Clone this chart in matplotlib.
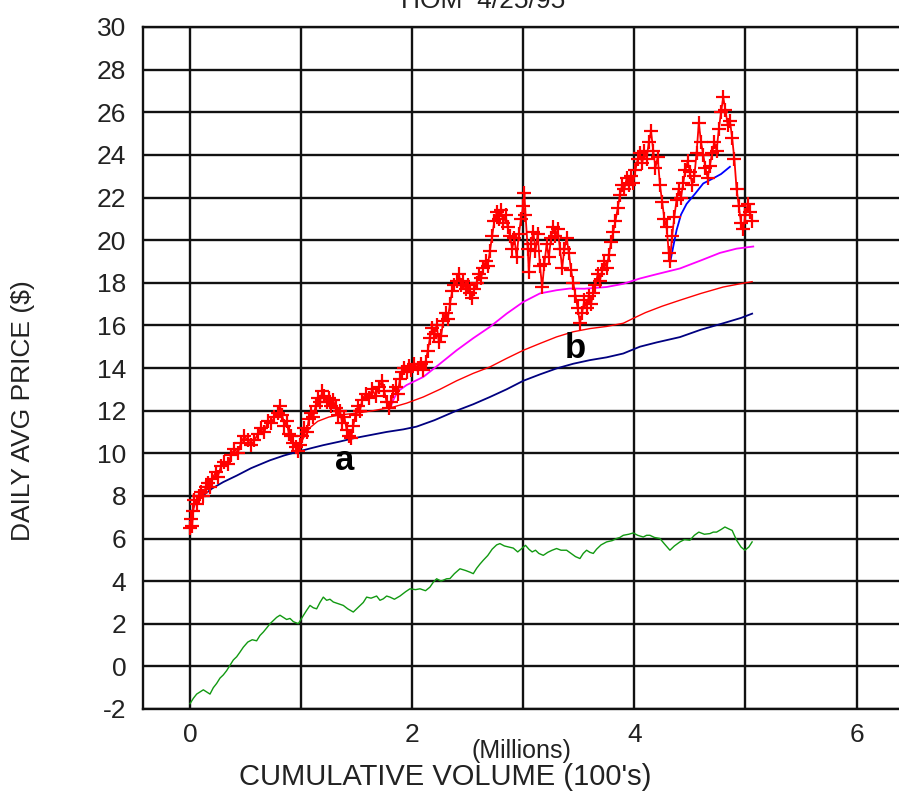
import numpy as np
import matplotlib.pyplot as plt

plt.rcParams['font.family'] = ['Liberation Sans', 'DejaVu Sans']
plt.rcParams['axes.unicode_minus'] = False

# daily average price (red crosses)
price_x = [0.00, 0.01, 0.02, 0.03, 0.04, 0.06, 0.08, 0.10, 0.12, 0.14, 0.16, 0.18, 0.20, 0.23, 0.25,
           0.28, 0.31, 0.34, 0.37, 0.40, 0.43, 0.46, 0.49, 0.52, 0.55, 0.58, 0.61, 0.64, 0.67, 0.70,
           0.73, 0.76, 0.79, 0.81, 0.83, 0.85, 0.87, 0.89, 0.91, 0.93, 0.95, 0.97, 0.99,
           1.01, 1.03, 1.05, 1.07, 1.09, 1.11, 1.13, 1.15, 1.17, 1.19, 1.21, 1.23, 1.25, 1.27, 1.29,
           1.31, 1.33, 1.35, 1.37, 1.39, 1.41, 1.43, 1.45, 1.47, 1.49, 1.51, 1.53, 1.55, 1.58, 1.61,
           1.64, 1.67, 1.70, 1.73, 1.75, 1.77, 1.79, 1.81, 1.83, 1.85, 1.87, 1.89, 1.91, 1.93, 1.95,
           1.97, 1.99, 2.02, 2.05, 2.08, 2.10,
           2.12, 2.14, 2.16, 2.18, 2.20, 2.22, 2.24, 2.26, 2.28, 2.30, 2.32, 2.34, 2.36, 2.38, 2.40,
           2.42, 2.44, 2.46, 2.48, 2.50, 2.52, 2.54, 2.56, 2.58, 2.60, 2.62, 2.64, 2.66, 2.68, 2.70,
           2.72, 2.74, 2.76, 2.78, 2.80, 2.82, 2.84, 2.86, 2.88, 2.90, 2.92, 2.94, 2.96, 2.98, 3.00,
           3.01, 3.02,
           3.04, 3.05, 3.07, 3.09, 3.11, 3.13, 3.15, 3.17, 3.19, 3.21, 3.23, 3.25, 3.27, 3.29, 3.31,
           3.33, 3.35, 3.37, 3.39, 3.41, 3.43, 3.45, 3.47, 3.49, 3.51, 3.53, 3.55, 3.57, 3.59, 3.61,
           3.63, 3.65, 3.67, 3.69, 3.71, 3.73, 3.75, 3.77, 3.79, 3.81, 3.83, 3.85, 3.87, 3.89, 3.91,
           3.93, 3.95, 3.97, 3.99,
           4.01, 4.03, 4.05, 4.07, 4.09, 4.11, 4.13, 4.15, 4.17, 4.19, 4.21, 4.23, 4.25, 4.27, 4.29,
           4.31, 4.32, 4.34, 4.36, 4.38, 4.40, 4.42, 4.44, 4.46, 4.48, 4.50, 4.52, 4.54, 4.56, 4.58,
           4.60, 4.62, 4.64, 4.66, 4.68, 4.70, 4.72, 4.74, 4.76, 4.78, 4.80, 4.82, 4.84, 4.86, 4.88,
           4.90, 4.92, 4.94, 4.96, 4.98, 5.00, 5.02, 5.04, 5.06]
price_y = [6.5, 6.9, 6.6, 7.3, 7.8, 7.6, 8.0, 8.2, 8.0, 8.4, 8.6, 8.4, 8.8, 9.1, 8.9,
           9.4, 9.6, 9.5, 9.9, 10.2, 10.0, 10.5, 10.8, 10.6, 10.4, 10.6, 10.9, 11.2, 11.0, 11.5,
           11.4, 11.7, 11.9, 12.2, 11.8, 11.3, 11.5, 10.9, 10.8, 10.5, 10.3, 10.1, 10.4,
           10.8, 11.2, 11.0, 11.6, 11.9, 11.7, 12.2, 12.6, 12.4, 12.9, 12.7, 12.4, 12.6, 12.2, 12.5,
           12.1, 11.8, 12.0, 11.4, 11.7, 11.1, 10.8, 10.7, 11.3, 11.8, 12.2, 12.0, 12.5, 12.8, 12.6,
           13.0, 12.7, 13.1, 13.4, 12.9, 12.4, 12.1, 12.4, 12.9, 13.1, 12.8, 13.5, 13.8, 14.0, 13.8,
           14.1, 13.9, 14.2, 14.0, 14.2, 13.9,
           14.3, 14.8, 15.4, 15.9, 15.6, 16.0, 15.2, 15.5, 16.2, 16.6, 16.3, 17.0, 17.6, 17.9, 18.1,
           18.4, 17.9, 18.1, 17.7, 17.9, 17.5, 17.3, 17.7, 18.0, 18.4, 18.2, 18.7, 19.0, 18.8, 19.5,
           20.2, 20.9, 21.3, 21.0, 21.4, 20.8, 21.2, 20.6, 20.2, 19.6, 20.1, 19.2, 20.3, 21.0, 21.6,
           22.2, 21.2,
           19.6, 18.5, 19.8, 20.4, 19.5, 20.3, 18.8, 17.8, 18.9, 19.8, 19.2, 20.1, 20.6, 20.2, 20.5,
           19.6, 18.7, 19.6, 20.1, 19.4, 18.6, 18.0, 17.4, 16.8, 16.1, 16.6, 17.2, 16.8, 17.4, 17.0,
           17.5, 17.9, 18.4, 18.1, 18.6, 19.0, 18.7, 19.3, 19.9, 20.4, 20.9, 21.5, 22.1, 22.6, 22.4,
           22.9, 22.6, 23.0, 22.7,
           23.3, 23.8, 24.1, 23.6, 24.2, 23.8, 24.6, 25.1, 24.2, 23.4, 23.9, 22.6, 21.8, 21.0, 20.6,
           19.4, 19.0, 20.2, 21.1, 21.9, 22.4, 22.0, 22.7, 23.3, 23.7, 23.2, 22.6, 23.0, 24.1, 25.5,
           24.6, 24.0, 23.4, 22.9, 23.5, 24.1, 24.6, 24.2, 25.2, 26.0, 26.7, 26.1, 25.4, 25.6, 24.8,
           23.8, 22.4, 21.6, 20.8, 20.5, 21.2, 21.7, 21.3, 20.9]

# long average from the start (navy)
navy_x = [0.00, 0.02, 0.05, 0.10, 0.20, 0.30, 0.42, 0.55, 0.72, 0.85, 0.96, 1.10, 1.20, 1.35,
          1.47, 1.62, 1.77, 1.92, 2.04, 2.20, 2.40, 2.55, 2.70, 2.85, 3.00, 3.15, 3.30, 3.45,
          3.60, 3.75, 3.90, 4.05, 4.20, 4.41, 4.60, 4.80, 4.96, 5.06]
navy_y = [6.8, 7.3, 7.7, 7.95, 8.35, 8.65, 8.95, 9.3, 9.67, 9.9, 10.06, 10.25, 10.38, 10.55,
          10.7, 10.85, 11.0, 11.12, 11.25, 11.55, 12.0, 12.3, 12.64, 13.0, 13.4, 13.7, 13.98, 14.2,
          14.37, 14.5, 14.68, 15.0, 15.2, 15.45, 15.8, 16.1, 16.35, 16.55]

# average from low "a" (red)
avg_a_x = [0.97, 1.02, 1.08, 1.15, 1.25, 1.35, 1.50, 1.65, 1.83, 1.95, 2.10, 2.25, 2.40, 2.55,
           2.70, 2.85, 3.00, 3.15, 3.30, 3.45, 3.60, 3.75, 3.90, 3.99, 4.10, 4.25, 4.41, 4.60,
           4.80, 4.95, 5.06]
avg_a_y = [10.15, 10.7, 11.2, 11.5, 11.7, 11.8, 11.88, 12.0, 12.17, 12.35, 12.64, 13.0, 13.4, 13.75,
           14.05, 14.45, 14.83, 15.15, 15.46, 15.7, 15.85, 15.95, 16.1, 16.33, 16.6, 16.9, 17.18, 17.5,
           17.8, 17.95, 18.05]

# average from next low (magenta)
magenta_x = [1.80, 1.83, 1.87, 1.95, 2.10, 2.25, 2.40, 2.55, 2.70, 2.85, 3.00, 3.15, 3.30, 3.42,
             3.55, 3.75, 3.90, 4.05, 4.20, 4.41, 4.60, 4.77, 4.92, 5.07]
magenta_y = [12.1, 12.5, 12.9, 13.2, 13.58, 14.2, 14.83, 15.4, 15.93, 16.55, 17.1, 17.5, 17.65, 17.73,
             17.72, 17.8, 17.95, 18.2, 18.4, 18.67, 19.05, 19.4, 19.6, 19.7]

# average from last low (blue)
blue_x = [4.32, 4.35, 4.38, 4.42, 4.47, 4.55, 4.62, 4.71, 4.78, 4.86]
blue_y = [18.9, 19.7, 20.47, 21.2, 21.7, 22.2, 22.66, 22.9, 23.1, 23.44]

# lower curve (green)
green_x = [0.00, 0.03, 0.06, 0.09, 0.12, 0.15, 0.18, 0.21, 0.24, 0.27, 0.30, 0.33, 0.36, 0.39,
           0.42, 0.45, 0.48, 0.52, 0.56, 0.60, 0.63, 0.66, 0.69, 0.72, 0.75, 0.78, 0.81, 0.84,
           0.87, 0.90, 0.93, 0.975, 1.01, 1.05, 1.08, 1.11, 1.14, 1.17, 1.20, 1.23, 1.26, 1.29,
           1.33, 1.38, 1.42, 1.47, 1.51, 1.56, 1.59, 1.63, 1.68, 1.71, 1.74, 1.77, 1.80, 1.84,
           1.89, 1.94, 1.98, 2.03, 2.07, 2.12, 2.16, 2.19, 2.22, 2.26, 2.31, 2.34, 2.38, 2.43,
           2.48, 2.52, 2.55, 2.58, 2.61, 2.64, 2.68, 2.72, 2.76, 2.79, 2.83, 2.87, 2.91, 2.95,
           2.99, 3.02, 3.05, 3.08, 3.11, 3.14, 3.18, 3.22, 3.26, 3.30, 3.34, 3.39, 3.43, 3.47,
           3.51, 3.54, 3.57, 3.60, 3.63, 3.66, 3.70, 3.75, 3.80, 3.84, 3.87, 3.90, 3.95, 3.99,
           4.03, 4.08, 4.11, 4.14, 4.18, 4.23, 4.27, 4.32, 4.36, 4.41, 4.45, 4.50, 4.54, 4.58,
           4.63, 4.68, 4.71, 4.74, 4.78, 4.815, 4.85, 4.88, 4.92, 4.96, 4.995, 5.03, 5.06]
green_y = [-1.75, -1.5, -1.3, -1.2, -1.1, -1.2, -1.3, -1.0, -0.8, -0.55, -0.4, -0.2, 0.05, 0.3,
           0.45, 0.67, 0.9, 1.14, 1.25, 1.2, 1.45, 1.61, 1.8, 2.0, 2.15, 2.3, 2.4, 2.3,
           2.2, 2.25, 2.1, 2.0, 2.3, 2.63, 2.86, 2.75, 2.7, 3.0, 3.25, 3.1, 3.15, 3.02,
           2.95, 2.86, 2.7, 2.55, 2.75, 3.0, 3.25, 3.2, 3.3, 3.1, 3.17, 3.3, 3.25, 3.15,
           3.3, 3.5, 3.64, 3.6, 3.64, 3.55, 3.72, 3.95, 4.11, 4.0, 4.11, 4.12, 4.35, 4.58,
           4.5, 4.42, 4.35, 4.6, 4.8, 4.98, 5.2, 5.5, 5.7, 5.76, 5.65, 5.6, 5.55, 5.37,
           5.55, 5.68, 5.5, 5.37, 5.45, 5.3, 5.21, 5.35, 5.45, 5.53, 5.45, 5.45, 5.3, 5.15,
           5.06, 5.3, 5.45, 5.35, 5.3, 5.5, 5.7, 5.84, 5.9, 6.0, 6.05, 6.15, 6.2, 6.26,
           6.15, 6.07, 6.15, 6.15, 6.05, 6.0, 5.75, 5.45, 5.65, 5.84, 5.95, 5.92, 6.15, 6.3,
           6.2, 6.23, 6.3, 6.3, 6.42, 6.54, 6.45, 6.38, 5.92, 5.6, 5.45, 5.6, 5.84]

x_ticks = [0, 1, 2, 3, 4, 5, 6]
x_labels = ['0', '', '2', '', '4', '', '6']
y_ticks = list(range(-2, 31, 2))

fig = plt.figure(figsize=(8.99, 7.94), dpi=100)
ax = fig.add_axes([143 / 899, 1 - 709 / 794, 756 / 899, 682 / 794])

ax.plot(green_x, green_y, color='#119911', lw=1.0)
ax.plot(navy_x, navy_y, color='#000080', lw=1.3)
ax.plot(avg_a_x, avg_a_y, color='#ff0000', lw=1.0)
ax.plot(magenta_x, magenta_y, color='#ff00ff', lw=1.3)
ax.plot(blue_x, blue_y, color='#0000ff', lw=1.3)
ax.plot(price_x, price_y, color='#ff0000', lw=1.3, marker='+', ms=9.5, mew=1.6)

ax.text(1.395, 9.64, 'a', fontsize=25, fontweight='bold', ha='center', va='center')
ax.text(3.465, 14.92, 'b', fontsize=25, fontweight='bold', ha='center', va='center')

ax.set_xlim(-0.423, 6.382)
ax.set_ylim(-2, 30)
ax.set_xticks(x_ticks)
ax.set_xticklabels(x_labels)
ax.set_yticks(y_ticks)
ax.tick_params(length=0, labelsize=19, pad=10, colors='#222222')
ax.tick_params(axis='y', pad=12)
ax.grid(True, color='#111111', lw=1.7)
ax.set_axisbelow(True)
for side in ['left', 'top', 'bottom']:
    ax.spines[side].set_linewidth(1.7)
    ax.spines[side].set_color('#111111')
ax.spines['right'].set_visible(False)

fig.text(23 / 899, 1 - 411 / 794, 'DAILY AVG PRICE ($)', rotation=90, fontsize=19,
         ha='center', va='center', color='#222222')
fig.text(521 / 899, 1 - 751 / 794, '(Millions)', fontsize=18, ha='center', va='center',
         color='#222222')
fig.text(445 / 899, 1 - 777 / 794, "CUMULATIVE VOLUME (100's)", fontsize=21,
         ha='center', va='center', color='#222222')
fig.text(483 / 899, 1 - 8 / 794, 'HOM  4/25/95', fontsize=19, ha='center', va='baseline',
         color='#222222')

fig.savefig('out.png', dpi=100)
